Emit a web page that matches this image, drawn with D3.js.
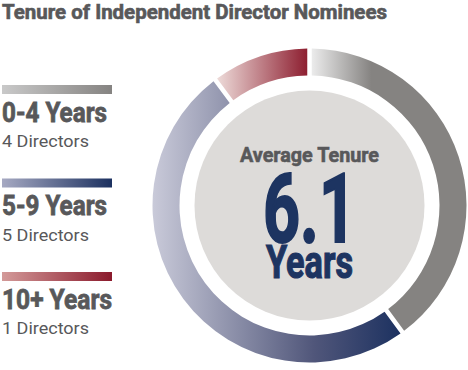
<!DOCTYPE html>
<html>
<head>
<meta charset="utf-8">
<script src="https://d3js.org/d3.v7.min.js"></script>
<style>
  body { margin: 0; background: #fff; }
  svg { display: block; }
  text { font-family: "Liberation Sans Narrow", "Roboto", sans-serif; fill: #58585a; }
  text.heavy { stroke: #58585a; }
</style>
</head>
<body>
<svg width="468" height="370"></svg>
<script>
// data
const categories = ['0-4 Years', '5-9 Years', '10+ Years'];
const directors = [4, 5, 1];
const averageTenure = 6.1;
const title = 'Tenure of Independent Director Nominees';

// colours per category
const grads = [
  { light: '#ececec', dark: '#858381', barLight: '#c9c9c9' },
  { light: '#c9cad9', dark: '#1c3160', barLight: '#a6a9c2' },
  { light: '#eddad8', dark: '#8b1a2c', barLight: '#d39a99' }
];

const svg = d3.select('svg');
const defs = svg.append('defs');

const cx = 309.5, cy = 205.5;
const outerR = 157, innerR = 130, coreR = 115;

svg.append('text')
  .attr('class', 'heavy')
  .attr('x', 2).attr('y', 18.5)
  .attr('font-size', 20).attr('font-weight', 'bold')
  .attr('stroke-width', 0.6)
  .attr('textLength', 385).attr('lengthAdjust', 'spacingAndGlyphs')
  .text(title);

// ring gradients, horizontal, relative to the ring centre
const ringGrad = [
  { x1: 2, x2: 62 },
  { x1: 92, x2: -157 },
  { x1: 0, x2: -92 }
];
ringGrad.forEach((g, i) => {
  const lg = defs.append('linearGradient')
    .attr('id', 'ring' + i)
    .attr('gradientUnits', 'userSpaceOnUse')
    .attr('x1', g.x1).attr('x2', g.x2).attr('y1', 0).attr('y2', 0);
  if (i === 0) {
    lg.append('stop').attr('offset', 0).attr('stop-color', grads[i].light);
    lg.append('stop').attr('offset', 1).attr('stop-color', grads[i].dark);
  } else if (i === 1) {
    lg.append('stop').attr('offset', 0).attr('stop-color', grads[i].dark);
    lg.append('stop').attr('offset', 0.35).attr('stop-color', '#50567a');
    lg.append('stop').attr('offset', 1).attr('stop-color', grads[i].light);
  } else {
    lg.append('stop').attr('offset', 0).attr('stop-color', grads[i].dark);
    lg.append('stop').attr('offset', 1).attr('stop-color', grads[i].light);
  }
});

const pie = d3.pie().sort(null).value(d => d).padAngle(0.022);
const arc = d3.arc().innerRadius(innerR).outerRadius(outerR);

const ring = svg.append('g').attr('transform', `translate(${cx},${cy})`);
ring.selectAll('path')
  .data(pie(directors))
  .enter().append('path')
  .attr('d', arc)
  .attr('fill', (d, i) => `url(#ring${i})`);

ring.append('circle').attr('r', coreR).attr('fill', '#dddbd9');

ring.append('text')
  .attr('class', 'heavy')
  .attr('y', -44).attr('text-anchor', 'middle')
  .attr('font-size', 21).attr('font-weight', 'bold')
  .attr('stroke-width', 0.6)
  .attr('textLength', 139).attr('lengthAdjust', 'spacingAndGlyphs')
  .text('Average Tenure');
ring.append('text')
  .attr('y', 36).attr('text-anchor', 'middle')
  .attr('font-size', 96).attr('font-weight', 'bold')
  .attr('textLength', 93).attr('lengthAdjust', 'spacingAndGlyphs')
  .style('fill', '#1d3461').style('stroke', '#1d3461').attr('stroke-width', 2)
  .text(averageTenure.toFixed(1));
ring.append('text')
  .attr('y', 72.5).attr('text-anchor', 'middle')
  .attr('font-size', 46).attr('font-weight', 'bold')
  .attr('textLength', 87).attr('lengthAdjust', 'spacingAndGlyphs')
  .style('fill', '#1d3461').style('stroke', '#1d3461').attr('stroke-width', 1.2)
  .text('Years');

// legend
const legendY = d3.scaleLinear().domain([0, 2]).range([85, 272]);
const labelW = [105, 105, 110];

categories.forEach((c, i) => {
  const lg = defs.append('linearGradient').attr('id', 'bar' + i);
  lg.append('stop').attr('offset', 0).attr('stop-color', grads[i].barLight);
  lg.append('stop').attr('offset', 1).attr('stop-color', grads[i].dark);

  const y = legendY(i);
  const g = svg.append('g');
  g.append('rect')
    .attr('x', 2).attr('y', y).attr('width', 110).attr('height', 9)
    .attr('fill', `url(#bar${i})`);
  g.append('text')
    .attr('class', 'heavy')
    .attr('x', 2).attr('y', y + 36.7)
    .attr('font-size', 28).attr('font-weight', 'bold')
    .attr('stroke-width', 0.8)
    .attr('textLength', labelW[i]).attr('lengthAdjust', 'spacingAndGlyphs')
    .text(c);
  g.append('text')
    .attr('x', 2).attr('y', y + 62)
    .attr('font-size', 17)
    .attr('textLength', 87).attr('lengthAdjust', 'spacingAndGlyphs')
    .text(`${directors[i]} Directors`);
});
</script>
</body>
</html>
